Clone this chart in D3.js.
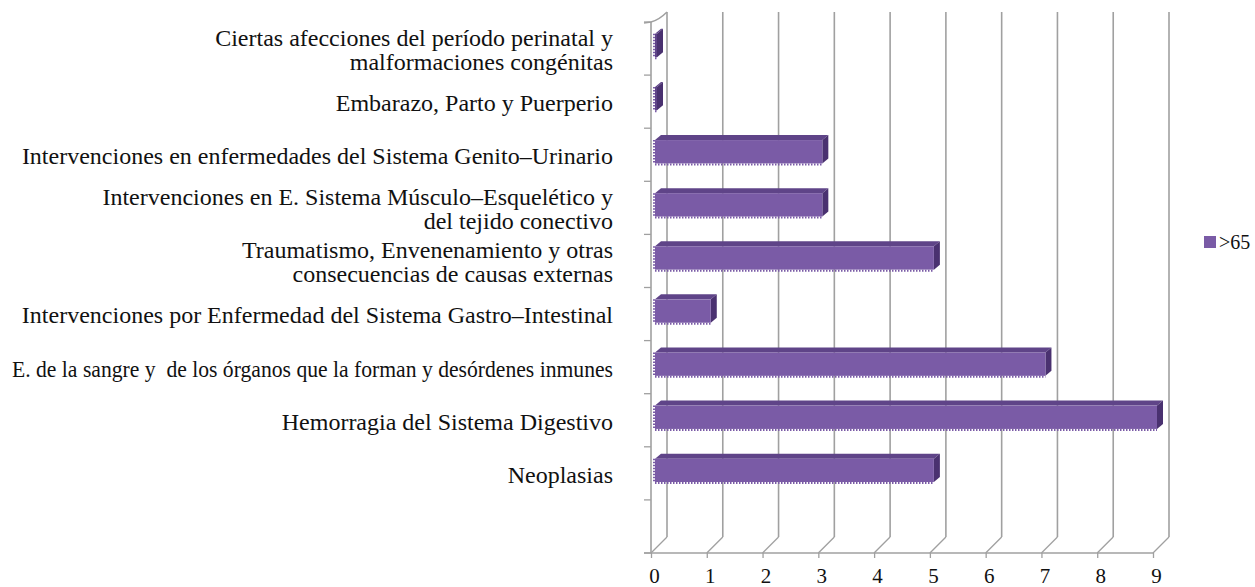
<!DOCTYPE html>
<html>
<head>
<meta charset="utf-8">
<script src="https://cdn.jsdelivr.net/npm/d3@7"></script>
<style>
  html, body { margin: 0; padding: 0; background: #fff; }
  svg { display: block; }
</style>
</head>
<body>
<svg id="chart" width="1255" height="587"></svg>
<script>
const categories = [
  ["Ciertas afecciones del período perinatal y", "malformaciones congénitas"],
  ["Embarazo, Parto y Puerperio"],
  ["Intervenciones en enfermedades del Sistema Genito–Urinario"],
  ["Intervenciones en E. Sistema Músculo–Esquelético y", "del tejido conectivo"],
  ["Traumatismo, Envenenamiento y otras", "consecuencias de causas externas"],
  ["Intervenciones por Enfermedad del Sistema Gastro–Intestinal"],
  ["E. de la sangre y  de los órganos que la forman y desórdenes inmunes"],
  ["Hemorragia del Sistema Digestivo"],
  ["Neoplasias"]
];
const values = [0, 0, 3, 3, 5, 1, 7, 9, 5];
const xTicks = [0, 1, 2, 3, 4, 5, 6, 7, 8, 9];
const seriesName = ">65";

(function () {
const svg = d3.select("#chart");
const fontFamily = "'Liberation Serif', 'DejaVu Serif', serif";
const barFront = "#7a5ba6", barTop = "#5f4488", barSide = "#4a3170";
const gridColor = "#a0a0a0";

// front plane geometry
const pLeft = 651, pBottom = 553, pTop = 22;
const depthX = 16, depthY = -16;
const x = d3.scaleLinear().domain([0, 9]).range([pLeft, 1153]);
const slots = categories.map((c, i) => "c" + i).concat(["empty"]);
const y = d3.scaleBand().domain(slots).range([pTop, pBottom]).paddingInner(0.56).paddingOuter(0.28);
const step = y.step();

// back wall gridlines
svg.append("g").selectAll("line").data(xTicks).join("line")
  .attr("x1", d => x(d) + depthX).attr("x2", d => x(d) + depthX)
  .attr("y1", pTop + depthY + 6).attr("y2", pBottom + depthY)
  .attr("stroke", gridColor).attr("stroke-width", 1.6);

// floor diagonals
svg.append("g").selectAll("line").data(xTicks).join("line")
  .attr("x1", d => x(d)).attr("y1", pBottom)
  .attr("x2", d => x(d) + depthX).attr("y2", pBottom + depthY)
  .attr("stroke", gridColor).attr("stroke-width", 1.3);

// left wall
svg.append("line").attr("x1", pLeft).attr("x2", pLeft).attr("y1", pTop).attr("y2", pBottom)
  .attr("stroke", gridColor).attr("stroke-width", 1.6);
svg.append("path")
  .attr("d", `M${pLeft - 7},${pTop + 1} L${pLeft},${pTop} Q${pLeft + 8},${pTop - 2} ${pLeft + depthX},${pTop + depthY + 6}`)
  .attr("fill", "none").attr("stroke", gridColor).attr("stroke-width", 1.5);
svg.append("g").selectAll("line").data(d3.range(slots.length + 1)).join("line")
  .attr("x1", pLeft - 7).attr("x2", pLeft)
  .attr("y1", i => pTop + i * step).attr("y2", i => pTop + i * step)
  .attr("stroke", gridColor).attr("stroke-width", 1.3);

// bottom axis
svg.append("line").attr("x1", pLeft - 7).attr("x2", x(9)).attr("y1", pBottom).attr("y2", pBottom)
  .attr("stroke", gridColor).attr("stroke-width", 1.6);
const xAxis = d3.axisBottom(x).tickValues(xTicks).tickSize(5).tickPadding(10).tickFormat(d3.format("d"));
const gx = svg.append("g").attr("transform", `translate(0,${pBottom})`).call(xAxis);
gx.select(".domain").remove();
gx.selectAll(".tick line").attr("stroke", gridColor).attr("stroke-width", 1.3);
gx.selectAll(".tick text").attr("font-family", fontFamily).attr("font-size", 21)
  .attr("fill", "#111").attr("dx", 3);

// bars (3D)
const bx = 4, by = -3, dX = 6, dY = -5;
const minW = 2;
const bars = svg.append("g").selectAll("g").data(values).join("g");
bars.each(function (v, i) {
  const g = d3.select(this);
  const x0 = x(0) + bx;
  const x1 = Math.max(x(v) + bx, x0 + minW);
  const y0 = y("c" + i) + by;
  const h = y.bandwidth();
  g.append("path")
    .attr("d", `M${x0},${y0} L${x0 + dX},${y0 + dY} L${x1 + dX},${y0 + dY} L${x1},${y0} Z`)
    .attr("fill", barTop);
  g.append("path")
    .attr("d", `M${x1},${y0} L${x1 + dX},${y0 + dY} L${x1 + dX},${y0 + h + dY} L${x1},${y0 + h} Z`)
    .attr("fill", barSide);
  g.append("rect").attr("x", x0).attr("y", y0).attr("width", x1 - x0).attr("height", h)
    .attr("fill", v === 0 ? barTop : barFront);
  g.append("line").attr("x1", x0).attr("x2", x1).attr("y1", y0 + h).attr("y2", y0 + h)
    .attr("stroke", barFront).attr("stroke-width", 2).attr("stroke-dasharray", "1.5,1.5").attr("transform", "translate(0,1)");
  g.append("line").attr("x1", x0 - 1).attr("x2", x0 - 1).attr("y1", y0).attr("y2", y0 + h)
    .attr("stroke", barFront).attr("stroke-width", 2).attr("stroke-dasharray", "1.5,1.5");
});

// category labels
const labelX = 613, maxLabelW = 601;
const labels = svg.append("g").selectAll("text").data(categories).join("text")
  .attr("text-anchor", "end")
  .attr("font-family", fontFamily).attr("font-size", 24).attr("fill", "#111");
labels.each(function (lines, i) {
  const t = d3.select(this);
  const cy = y("c" + i) + y.bandwidth() / 2 + 1;
  const lh = 24;
  const startY = cy - (lines.length - 1) * lh / 2;
  lines.forEach((ln, k) => {
    const ts = t.append("tspan").attr("x", labelX).attr("y", startY + k * lh).attr("dy", "0.35em")
      .style("white-space", "pre").text(ln);
    const w = ts.node().getComputedTextLength();
    if (w > maxLabelW) ts.attr("textLength", maxLabelW).attr("lengthAdjust", "spacingAndGlyphs");
  });
});

// legend
const legend = svg.append("g").attr("transform", "translate(1204,236)");
legend.append("rect").attr("width", 12).attr("height", 12).attr("fill", barFront);
legend.append("text").attr("x", 15).attr("y", 6).attr("dy", "0.35em")
  .attr("font-family", fontFamily).attr("font-size", 20).attr("fill", "#111").text(seriesName);
})();
</script>
</body>
</html>
